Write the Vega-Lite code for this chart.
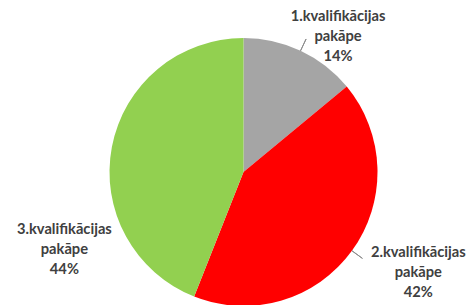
{
  "$schema": "https://vega.github.io/schema/vega-lite/v6.json",
  "width": 449,
  "height": 266,
  "autosize": {"type": "none"},
  "padding": {"left": 19, "top": 39, "right": 0, "bottom": 0},
  "background": "white",
  "config": {"view": {"stroke": null}},
  "data": {
    "values": [
      {"category": "1.kvalifikācijas pakāpe", "value": 14},
      {"category": "2.kvalifikācijas pakāpe", "value": 42},
      {"category": "3.kvalifikācijas pakāpe", "value": 44}
    ]
  },
  "transform": [
    {"stack": "value", "groupby": [], "sort": [{"field": "category", "order": "ascending"}], "as": ["v0", "v1"]},
    {"calculate": "(datum.v0 + datum.v1) / 2", "as": "mid"},
    {"calculate": "datum.category + ' ' + datum.value + '%'", "as": "label"}
  ],
  "layer": [
    {
      "mark": {"type": "arc", "radius": 134},
      "encoding": {
        "theta": {"field": "v0", "type": "quantitative", "scale": {"domain": [0, 100]}},
        "theta2": {"field": "v1"},
        "color": {
          "field": "category",
          "type": "nominal",
          "scale": {"domain": ["1.kvalifikācijas pakāpe", "2.kvalifikācijas pakāpe", "3.kvalifikācijas pakāpe"], "range": ["#A5A5A5", "#FF0000", "#92D050"]},
          "legend": null
        }
      }
    },
    {
      "transform": [{"filter": "datum.value != 44"}],
      "mark": {"type": "arc", "radius": 147, "radius2": 134, "fill": null, "stroke": "#8C8C8C", "strokeWidth": 1},
      "encoding": {
        "theta": {"field": "mid", "type": "quantitative", "scale": {"domain": [0, 100]}},
        "theta2": {"field": "mid"}
      }
    },
    {
      "transform": [{"filter": "datum.value == 14"}],
      "mark": {"type": "text", "radius": 161, "dx": 26, "dy": -9, "lineBreak": " ", "lineHeight": 20, "font": "Lato", "fontSize": 14.7, "fontWeight": "bold", "color": "#404040", "align": "center", "baseline": "middle"},
      "encoding": {
        "theta": {"field": "mid", "type": "quantitative", "scale": {"domain": [0, 100]}},
        "text": {"field": "label"}
      }
    },
    {
      "transform": [{"filter": "datum.value == 42"}],
      "mark": {"type": "text", "radius": 200, "dx": 13, "dy": -37, "lineBreak": " ", "lineHeight": 20, "font": "Lato", "fontSize": 14.7, "fontWeight": "bold", "color": "#404040", "align": "center", "baseline": "middle"},
      "encoding": {
        "theta": {"field": "mid", "type": "quantitative", "scale": {"domain": [0, 100]}},
        "text": {"field": "label"}
      }
    },
    {
      "transform": [{"filter": "datum.value == 44"}],
      "mark": {"type": "text", "radius": 162, "dx": -20, "dy": 88, "lineBreak": " ", "lineHeight": 20, "font": "Lato", "fontSize": 14.7, "fontWeight": "bold", "color": "#404040", "align": "center", "baseline": "middle"},
      "encoding": {
        "theta": {"field": "mid", "type": "quantitative", "scale": {"domain": [0, 100]}},
        "text": {"field": "label"}
      }
    }
  ]
}
